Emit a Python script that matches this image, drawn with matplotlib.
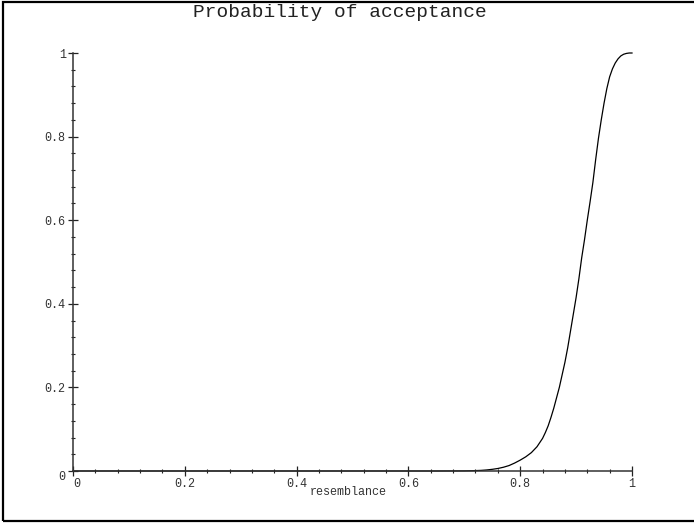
import matplotlib
matplotlib.use("Agg")
import matplotlib.pyplot as plt
from matplotlib.patches import Rectangle
from matplotlib.ticker import MultipleLocator

# Data
resemblance = [0.0, 0.1, 0.2, 0.3, 0.4, 0.5, 0.6, 0.65, 0.70, 0.72, 0.73, 0.74,
               0.75, 0.76, 0.77, 0.78, 0.79, 0.80, 0.81, 0.82, 0.83, 0.84, 0.845,
               0.85, 0.855, 0.86, 0.865, 0.87, 0.875, 0.88, 0.885, 0.89, 0.895,
               0.90, 0.905, 0.91, 0.915, 0.92, 0.925, 0.93, 0.935, 0.94, 0.945,
               0.95, 0.955, 0.96, 0.965, 0.97, 0.975, 0.98, 0.985, 0.99, 0.995, 1.0]
acceptance = [0.0, 0.0, 0.0, 0.0, 0.0, 0.0, 0.0, 0.0, 0.0003, 0.001, 0.0015, 0.0025,
              0.004, 0.006, 0.009, 0.013, 0.019, 0.026, 0.034, 0.044, 0.058, 0.078, 0.092,
              0.108, 0.128, 0.150, 0.175, 0.200, 0.230, 0.260, 0.295, 0.335, 0.375,
              0.415, 0.460, 0.510, 0.553, 0.600, 0.644, 0.690, 0.745, 0.796, 0.840,
              0.880, 0.915, 0.943, 0.962, 0.976, 0.986, 0.993, 0.997, 0.999, 1.0, 1.0]
x_ticks = [0, 0.2, 0.4, 0.6, 0.8, 1]
x_tick_labels = ["0", "0.2", "0.4", "0.6", "0.8", "1"]
y_ticks = [0, 0.2, 0.4, 0.6, 0.8, 1]
y_tick_labels = ["0", "0.2", "0.4", "0.6", "0.8", "1"]
title = "Probability of acceptance"
x_label = "resemblance"

W, H = 694, 523
fig = plt.figure(figsize=(W / 100, H / 100), dpi=100)
font = "Liberation Mono"

# outer frame (right edge lies beyond the image)
fig.patches.append(Rectangle((3 / W, 2 / H), 1.2, (H - 4) / H, transform=fig.transFigure,
                             fill=False, edgecolor="black", linewidth=1.6, zorder=0))

x0, x1 = 73, 632
y0, y1 = 471, 53
ax = fig.add_axes([x0 / W, (H - y0) / H, (x1 - x0) / W, (y0 - y1) / H])
ax.set_xlim(0, 1)
ax.set_ylim(0, 1)
ax.patch.set_visible(False)
for s in ("top", "right"):
    ax.spines[s].set_visible(False)
for s in ("left", "bottom"):
    ax.spines[s].set_color("#333333")
    ax.spines[s].set_linewidth(1.1)

ax.plot(resemblance, acceptance, color="black", linewidth=0.9, clip_on=False)

ax.set_xticks(x_ticks)
ax.set_xticklabels(x_tick_labels)
ax.set_yticks(y_ticks)
ax.set_yticklabels(y_tick_labels)
ax.xaxis.set_minor_locator(MultipleLocator(0.04))
ax.yaxis.set_minor_locator(MultipleLocator(0.04))
ax.tick_params(which="major", direction="inout", length=6.5, width=0.9, color="#222222",
               labelsize=8.5, pad=2, labelcolor="#333333")
ax.tick_params(which="minor", direction="inout", length=3.2, width=0.8, color="#222222")
for lab in ax.get_xticklabels() + ax.get_yticklabels():
    lab.set_fontfamily(font)
ax.get_xticklabels()[0].set_horizontalalignment("left")
ax.get_yticklabels()[0].set_verticalalignment("top")

fig.text(348 / W, 1 - 492 / H, x_label, ha="center", va="center",
         fontsize=8.5, family=font, color="#333333")
fig.text(339.5 / W, 1 - 12.5 / H, title, ha="center", va="center",
         fontsize=14, family=font, color="#222222")

fig.savefig("out.png", dpi=100)
